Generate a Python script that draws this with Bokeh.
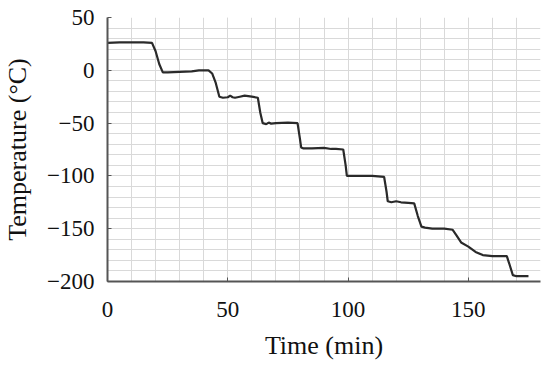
from bokeh.plotting import figure
from bokeh.models import Range1d, FixedTicker
from bokeh.embed import file_html
from bokeh.resources import INLINE

time_min = [0, 5, 10, 15, 18.5, 20, 21.5, 23, 25, 30, 35, 38, 42, 43.5, 45, 46.5, 48, 50, 51, 52, 53,
            55, 57, 60, 62.5, 63.5, 64.5, 66, 67, 68, 70, 75, 79, 80, 80.5, 81.5, 85, 90, 93, 95, 98,
            99, 99.5, 100, 105, 110, 115, 116, 116.5, 118, 120, 122, 125, 127.5, 129, 130.5, 132,
            135, 140, 143.5, 145, 147, 150, 153, 156, 158, 160, 163, 166, 167, 168.5, 170, 172, 175]
temp_c = [26, 26.5, 26.5, 26.5, 26, 18, 6, -2, -2, -1.5, -1, 0, 0, -3, -12, -25, -26, -25.5, -24, -25.5, -26,
          -25, -24, -25, -26, -40, -50, -51, -49.5, -50.5, -50, -49.5, -50, -65, -73, -74, -74, -73.5, -74.5, -74.5, -75,
          -90, -100, -100, -100, -100, -101, -115, -124, -125, -124, -125, -125.5, -126, -138, -148, -149,
          -150, -150, -151, -156, -163, -167, -172, -175, -175.5, -176, -176, -176, -183, -194, -195, -195, -195]

x_ticks = [0, 50, 100, 150]
y_ticks = [50, 0, -50, -100, -150, -200]

p = figure(width=542, height=362, output_backend="svg", toolbar_location=None,
           x_range=Range1d(0, 180), y_range=Range1d(-200, 50),
           min_border_left=107, min_border_right=2, min_border_top=17, min_border_bottom=80)
p.outline_line_color = None

p.line(time_min, temp_c, line_color="#2a2a2a", line_width=2.2)

font = "Liberation Serif"
for ax in (p.xaxis[0], p.yaxis[0]):
    ax.major_label_text_font = "Times New Roman"
    ax.major_label_text_font_size = "23px"
    ax.major_label_text_color = "#111111"
    ax.axis_label_text_font = font
    ax.axis_label_text_font_size = "26px"
    ax.axis_label_text_font_style = "normal"
    ax.axis_label_text_color = "#111111"
    ax.axis_line_color = "#555555"
    ax.axis_line_width = 2
    ax.major_tick_in = 4
    ax.major_tick_out = 0
    ax.major_tick_line_color = "#555555"
    ax.minor_tick_line_color = None

p.xaxis.major_label_standoff = 16
p.yaxis.major_label_standoff = 9
p.xaxis.axis_label_standoff = 11
p.yaxis.axis_label_standoff = 12

p.xaxis.ticker = FixedTicker(ticks=x_ticks, minor_ticks=list(range(0, 181, 10)))
p.yaxis.ticker = FixedTicker(ticks=y_ticks, minor_ticks=list(range(-200, 51, 10)))
p.xaxis.axis_label = "Time (min)"
p.yaxis.axis_label = "Temperature (°C)"

for g in (p.xgrid[0], p.ygrid[0]):
    g.grid_line_color = "#d9d9d9"
    g.grid_line_width = 1
    g.minor_grid_line_color = "#d9d9d9"
    g.minor_grid_line_width = 1

open("out.html", "w").write(file_html(p, INLINE))
